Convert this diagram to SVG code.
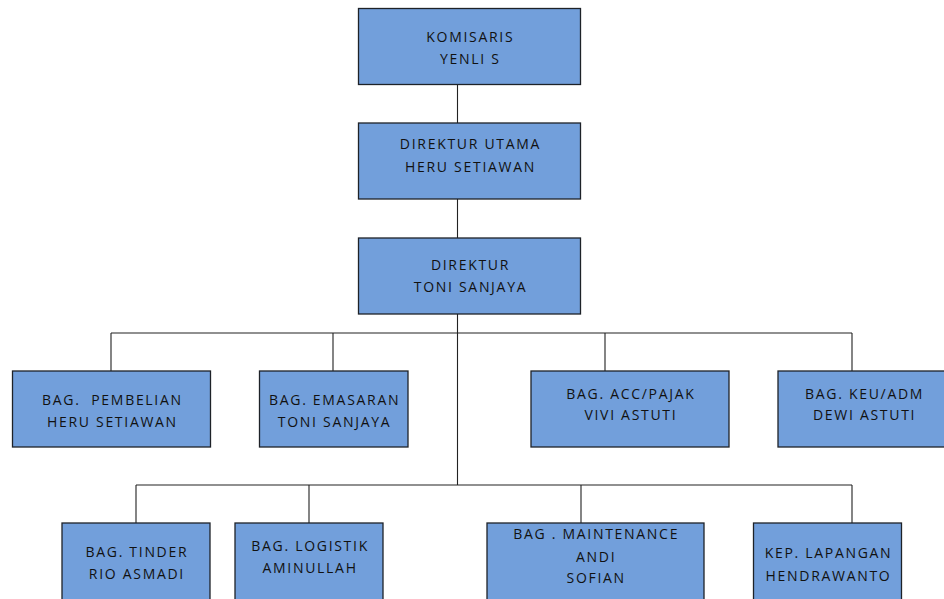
<svg xmlns="http://www.w3.org/2000/svg" width="944" height="599" viewBox="0 0 944 599">
<style>
.box{fill:#729fdb;stroke:#1e2228;stroke-width:1.3}
.t{font-family:"Open Sans","Liberation Sans",sans-serif;font-size:14px;letter-spacing:1.7px;fill:#111;text-anchor:middle}
.c{stroke:#222;stroke-width:1.1;fill:none}
</style>
<rect width="944" height="599" fill="#fff"/>
<g id="connectors">
<path class="c" d="M457.5 84V123M457.5 199V238M457.5 314V485"/>
<path class="c" d="M111 333H852M111 333V371M333 333V371M605 333V371M852 333V371"/>
<path class="c" d="M136 485H852M136 485V523M309 485V523M581 485V523M852 485V523"/>
</g>
<g id="komisaris"><rect class="box" x="358.5" y="8.5" width="222" height="76"/>
<text class="t" x="470.3" y="41.5">KOMISARIS</text><text class="t" x="470.3" y="64">YENLI S</text></g>
<g id="direktur-utama"><rect class="box" x="358.5" y="123" width="222" height="76"/>
<text class="t" x="470.5" y="149.3">DIREKTUR UTAMA</text><text class="t" x="470.5" y="171.7">HERU SETIAWAN</text></g>
<g id="direktur"><rect class="box" x="358.5" y="238" width="222" height="76"/>
<text class="t" x="470.5" y="270">DIREKTUR</text><text class="t" x="470.5" y="292.3">TONI SANJAYA</text></g>
<g id="pembelian"><rect class="box" x="12.5" y="371" width="198" height="76"/>
<text class="t" x="112.4" y="404.5" xml:space="preserve">BAG.  PEMBELIAN</text><text class="t" x="112.4" y="426.7">HERU SETIAWAN</text></g>
<g id="emasaran"><rect class="box" x="259.5" y="371" width="148.5" height="76"/>
<text class="t" x="334.6" y="404.5">BAG. EMASARAN</text><text class="t" x="334.6" y="426.7">TONI SANJAYA</text></g>
<g id="acc-pajak"><rect class="box" x="531" y="371" width="198" height="76"/>
<text class="t" x="630.9" y="399">BAG. ACC/PAJAK</text><text class="t" x="630.9" y="419.5">VIVI ASTUTI</text></g>
<g id="keu-adm"><rect class="box" x="778" y="371" width="172" height="76"/>
<text class="t" x="864.6" y="399">BAG. KEU/ADM</text><text class="t" x="864.6" y="419.5">DEWI ASTUTI</text></g>
<g id="tinder"><rect class="box" x="62" y="523" width="148" height="90"/>
<text class="t" x="136.9" y="556.7">BAG. TINDER</text><text class="t" x="136.9" y="579">RIO ASMADI</text></g>
<g id="logistik"><rect class="box" x="235" y="523" width="148" height="90"/>
<text class="t" x="310.1" y="550.7">BAG. LOGISTIK</text><text class="t" x="310.1" y="572.7">AMINULLAH</text></g>
<g id="maintenance"><rect class="box" x="487" y="523" width="217" height="90"/>
<text class="t" x="596.2" y="539">BAG . MAINTENANCE</text><text class="t" x="596.2" y="561.7">ANDI</text><text class="t" x="596.2" y="583.3">SOFIAN</text></g>
<g id="kep-lapangan"><rect class="box" x="753.5" y="523" width="148" height="90"/>
<text class="t" x="828.5" y="558.3">KEP. LAPANGAN</text><text class="t" x="828.5" y="581">HENDRAWANTO</text></g>
</svg>
